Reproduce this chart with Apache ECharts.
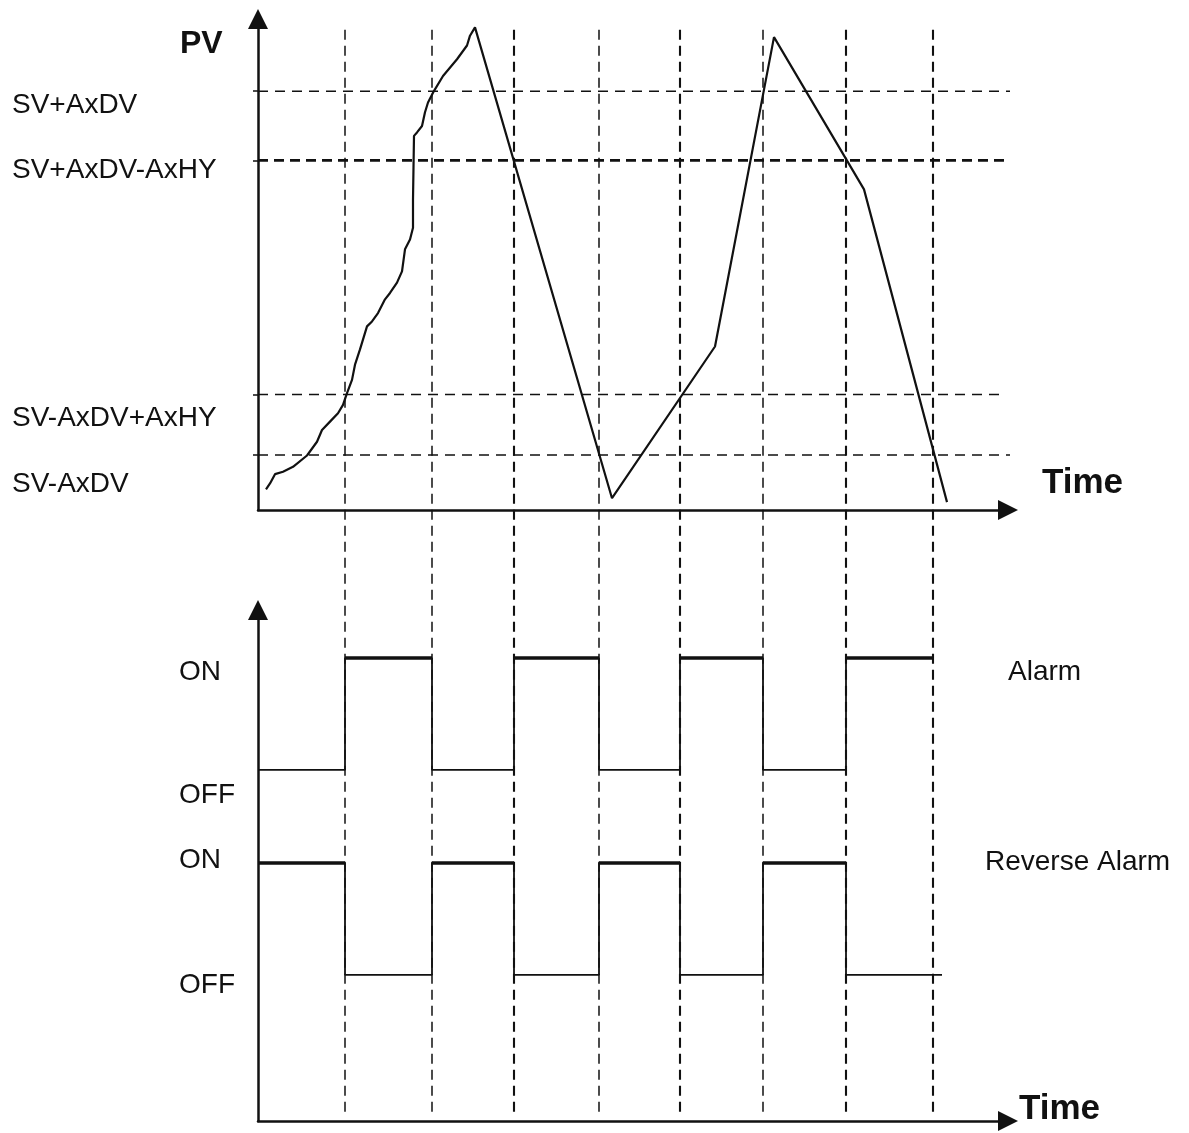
<!DOCTYPE html>
<html>
<head>
<meta charset="utf-8">
<title>Alarm / Reverse Alarm</title>
<script src="https://cdn.jsdelivr.net/npm/echarts@6.0.0/dist/echarts.min.js"></script>
<style>
html, body { margin: 0; padding: 0; background: #fff; }
#main { width: 1189px; height: 1133px; }
</style>
</head>
<body>
<div id="main"></div>
<script>
// PV curve, time vs PV (arbitrary units)
var pvTime = [0.8, 1.2, 1.7, 2.5, 3.5, 4.9, 5.9, 6.4, 7.2, 8.0, 8.5, 8.9, 9.4, 9.7, 10.2, 10.9,
	11.4, 12.0, 12.7, 13.2, 13.9, 14.4, 14.7, 15.2, 15.5, 15.5, 15.6, 15.9, 16.4, 16.7, 17.0,
	17.5, 18.5, 19.9, 20.9, 21.2, 21.7, 35.4, 45.7, 51.6, 60.6, 68.9];
var pvValue = [4.2, 5.4, 7.3, 7.8, 8.8, 11.1, 13.9, 16.3, 18.0, 19.7, 21.4, 23.8, 26.5, 29.6, 32.7, 37.4,
	38.4, 40.1, 42.9, 44.2, 46.3, 48.6, 53.1, 55.1, 57.5, 63.3, 76.2, 76.9, 78.2, 81.0, 83.0,
	85.0, 88.4, 91.8, 94.6, 96.6, 98.3, 2.4, 33.3, 96.3, 65.3, 1.6];

// alarm thresholds on the PV axis
var levelNames = ['SV+AxDV', 'SV+AxDV-AxHY', 'SV-AxDV+AxHY', 'SV-AxDV'];
var levelValues = [85.3, 71.2, 23.5, 11.2];
var levelEnds = [75.7, 75.2, 74.7, 75.5];

// switching moments, shared by both panels
var switchTimes = [8.7, 17.4, 25.6, 34.1, 42.2, 50.5, 58.8, 67.5];
var guideFrom = 97.8;
var guideTo = -122.9;

// output states
var stateNames = ['ON', 'OFF'];
var signalNames = ['Alarm', 'Reverse Alarm'];
var alarmTimes = [0, 8.7, 17.4, 25.6, 34.1, 42.2, 50.5, 58.8, 67.5];
var alarmStates = ['OFF', 'ON', 'OFF', 'ON', 'OFF', 'ON', 'OFF', 'ON', 'ON'];
var reverseTimes = [0, 8.7, 17.4, 25.6, 34.1, 42.2, 50.5, 58.8, 68.4];
var reverseStates = ['ON', 'OFF', 'ON', 'OFF', 'ON', 'OFF', 'ON', 'OFF', 'OFF'];
var alarmLevel = [90.6, 68.7];   // ON, OFF
var reverseLevel = [50.5, 28.6]; // ON, OFF

var chart = echarts.init(document.getElementById('main'));

var INK = '#111';
var FONT = '"Liberation Sans", Arial, sans-serif';

function pairs(xs, ys) {
	return xs.map(function (x, i) { return [x, ys[i]]; });
}

function stepData(times, states, levels) {
	return times.map(function (t, i) {
		return [t, levels[stateNames.indexOf(states[i])]];
	});
}

// only the ON stretches, drawn heavier
function onStretches(times, states, levels) {
	var out = [];
	for (var i = 0; i < times.length - 1; i++) {
		if (states[i] === 'ON') {
			out.push([times[i], levels[0]], [times[i + 1], levels[0]], [times[i + 1], '-']);
		}
	}
	return out;
}

function guides(pick) {
	var out = [];
	switchTimes.forEach(function (t, i) {
		if (pick(i)) {
			out.push([t, guideFrom], [t, guideTo], [t, '-']);
		}
	});
	return out;
}

function levelLines(pick) {
	var out = [];
	levelValues.forEach(function (v, i) {
		if (pick(i)) {
			out.push([0, v], [levelEnds[i], v], [levelEnds[i], '-']);
		}
	});
	return out;
}

function plainLine(name, data, width, dash, extra) {
	var s = {
		name: name,
		type: 'line',
		data: data,
		symbol: 'none',
		showSymbol: false,
		silent: true,
		lineStyle: { color: INK, width: width, type: dash || 'solid' }
	};
	for (var k in extra) { s[k] = extra[k]; }
	return s;
}

function text(str, x, y, size, bold) {
	return {
		type: 'text',
		x: x,
		y: y,
		silent: true,
		style: {
			text: str,
			fill: INK,
			font: (bold ? 'bold ' : '') + size + 'px ' + FONT,
			textAlign: 'left',
			textVerticalAlign: 'middle'
		}
	};
}

function axisLineStyle() {
	return {
		show: true,
		symbol: ['none', 'triangle'],
		symbolSize: [20, 20],
		lineStyle: { color: INK, width: 2.5 }
	};
}

var boldGuides = [2, 4, 6, 7];

var option = {
	animation: false,
	backgroundColor: '#fff',
	grid: [
		{ left: 258, top: 19, width: 750, height: 491 },
		{ left: 258, top: 610, width: 750, height: 511 }
	],
	xAxis: [
		{ gridIndex: 0, type: 'value', min: 0, max: 75, axisLine: axisLineStyle(),
			axisTick: { show: false }, axisLabel: { show: false }, splitLine: { show: false } },
		{ gridIndex: 1, type: 'value', min: 0, max: 75, axisLine: axisLineStyle(),
			axisTick: { show: false }, axisLabel: { show: false }, splitLine: { show: false } }
	],
	yAxis: [
		{ gridIndex: 0, type: 'value', min: 0, max: 100, axisLine: axisLineStyle(),
			axisTick: { show: true, customValues: levelValues, length: 5, lineStyle: { color: INK, width: 1.5 } },
			axisLabel: { show: false }, splitLine: { show: false } },
		{ gridIndex: 1, type: 'value', min: 0, max: 100, axisLine: axisLineStyle(),
			axisTick: { show: false }, axisLabel: { show: false }, splitLine: { show: false } }
	],
	series: [
		plainLine('guides', guides(function (i) { return boldGuides.indexOf(i) < 0; }), 1.5, [10, 6], { clip: false, z: 1 }),
		plainLine('guidesBold', guides(function (i) { return boldGuides.indexOf(i) >= 0; }), 2.1, [10, 6], { clip: false, z: 1 }),
		plainLine('levels', levelLines(function (i) { return i !== 1; }), 1.5, [10, 7], { clip: false, z: 1 }),
		plainLine('levelHY', levelLines(function (i) { return i === 1; }), 2.8, [10, 6], { clip: false, z: 1 }),
		plainLine('PV', pairs(pvTime, pvValue), 2.2, 'solid', { z: 3 }),
		plainLine(signalNames[0], stepData(alarmTimes, alarmStates, alarmLevel), 1.8, 'solid',
			{ xAxisIndex: 1, yAxisIndex: 1, step: 'end', z: 3 }),
		plainLine(signalNames[0] + ' ON', onStretches(alarmTimes, alarmStates, alarmLevel), 3.5, 'solid',
			{ xAxisIndex: 1, yAxisIndex: 1, z: 4 }),
		plainLine(signalNames[1], stepData(reverseTimes, reverseStates, reverseLevel), 1.8, 'solid',
			{ xAxisIndex: 1, yAxisIndex: 1, step: 'end', z: 3 }),
		plainLine(signalNames[1] + ' ON', onStretches(reverseTimes, reverseStates, reverseLevel), 3.5, 'solid',
			{ xAxisIndex: 1, yAxisIndex: 1, z: 4 })
	],
	graphic: [
		text('PV', 180, 44, 32, true),
		text(levelNames[0], 12, 105, 28),
		text(levelNames[1], 12, 170, 28),
		text(levelNames[2], 12, 418, 28),
		text(levelNames[3], 12, 484, 28),
		text('Time', 1042, 483, 35, true),
		text(stateNames[0], 179, 672, 28),
		text(stateNames[1], 179, 795, 28),
		text(stateNames[0], 179, 860, 28),
		text(stateNames[1], 179, 985, 28),
		text(signalNames[0], 1008, 672, 28),
		text(signalNames[1], 985, 862, 28),
		text('Time', 1019, 1109, 35, true)
	]
};

chart.setOption(option);
</script>
</body>
</html>
